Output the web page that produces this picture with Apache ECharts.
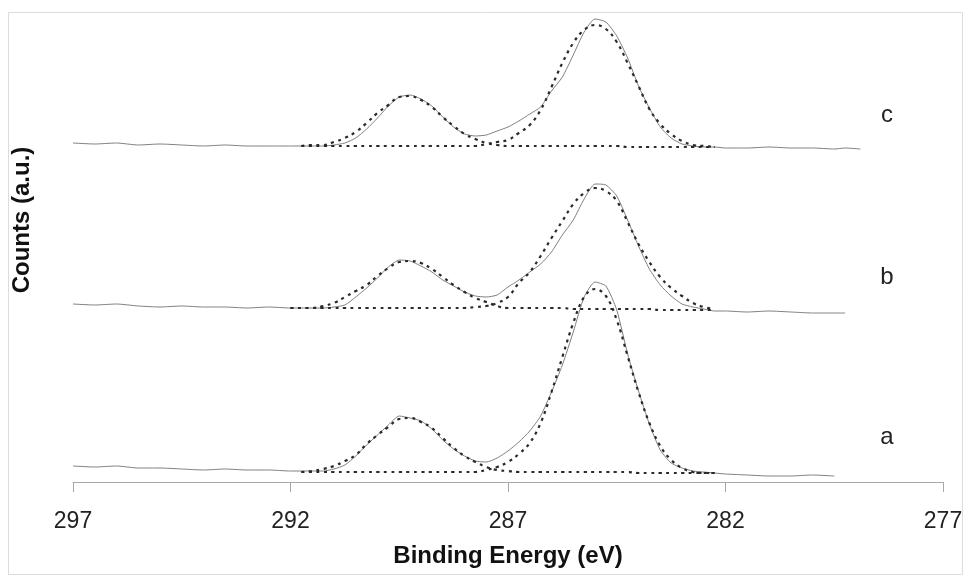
<!DOCTYPE html>
<html>
<head>
<meta charset="utf-8">
<script src="https://cdn.jsdelivr.net/npm/echarts@6/dist/echarts.min.js"></script>
<style>
  html, body { margin: 0; padding: 0; background: #fff; }
  #chart { width: 969px; height: 578px; }
</style>
</head>
<body>
<div id="chart"></div>
<script>
// binding energies (eV) of the measured spectra
const expE = [297, 296.5, 296, 295.5, 295, 294.5, 294, 293.5, 293, 292.5,
  292, 291.75, 291.5, 291.25, 291, 290.75, 290.5, 290.25, 290, 289.75,
  289.5, 289.25, 289, 288.75, 288.5, 288.25, 288, 287.75, 287.5, 287.25,
  287, 286.75, 286.5, 286.25, 286, 285.75, 285.5, 285.25, 285, 284.75,
  284.5, 284.25, 284, 283.75, 283.5, 283.25, 283, 282.75, 282.5, 282.25,
  282, 281.5, 281, 280.5, 280, 279.5, 279.25, 278.9]

// measured counts (a.u., stacked with offsets)
const aExp = [16, 15, 16, 14, 14, 13, 12, 13, 12, 12,
  11, 11, 11, 11, 13, 17, 26, 37, 47, 57,
  66, 64, 61, 53, 42, 33, 26, 21, 20, 24,
  31, 40, 51, 66, 90, 117, 150, 185, 200, 196,
  172, 128, 91, 58, 32, 19, 14, 11, 10, 9,
  8, 7, 6, 6, 7, 6, null, null]
const bExp = [178, 177, 178, 176, 175, 176, 175, 175, 174, 175,
  174, 174, 174, 174, 175, 177, 185, 194, 204, 215,
  222, 221, 216, 210, 202, 196, 190, 186, 185, 187,
  195, 202, 210, 218, 230, 247, 262, 283, 298, 297,
  286, 262, 236, 213, 197, 186, 178, 175, 173, 171,
  171, 170, 171, 170, 169, 169, 169, null]
const cExp = [339, 338, 339, 337, 338, 337, 336, 337, 336, 336,
  336, 336, 336, 336, 337, 339, 344, 353, 364, 376,
  385, 387, 383, 376, 365, 355, 348, 346, 347, 351,
  355, 361, 368, 375, 391, 405, 427, 450, 463, 460,
  446, 424, 396, 374, 355, 344, 338, 336, 335, 335,
  334, 334, 335, 334, 334, 333, 334, 333]

// binding energies (eV) of the fitted components
const fitE = [292, 291.75, 291.5, 291.25, 291, 290.75, 290.5, 290.25, 290, 289.75,
  289.5, 289.25, 289, 288.75, 288.5, 288.25, 288, 287.75, 287.5, 287.25,
  287, 286.75, 286.5, 286.25, 286, 285.75, 285.5, 285.25, 285, 284.75,
  284.5, 284.25, 284, 283.75, 283.5, 283.25, 283, 282.75, 282.5, 282.25]

// fitted components: 1 = high energy peak, 2 = main peak
const aFit1 = [null, 10, 11, 13, 16, 21, 27, 38, 47, 55,
  63, 64, 60, 54, 44, 34, 26, 20, 15, 12,
  11, 10, 10, 10, 10, 10, 10, 10, 10, 10,
  10, 10, 9, 9, 9, 9, 9, 9, 9, 9]
const aFit2 = [null, 10, 10, 10, 10, 10, 10, 10, 10, 10,
  10, 10, 10, 10, 10, 10, 10, 10, 12, 15,
  20, 28, 39, 59, 90, 125, 159, 185, 193, 186,
  162, 126, 90, 59, 36, 22, 14, 10, 9, 9]
const bFit1 = [174, 174, 174, 176, 179, 185, 191, 197, 206, 214,
  220, 221, 219, 213, 205, 197, 190, 184, 180, 176,
  174, 174, 174, 174, 174, 174, 173, 173, 173, 173,
  173, 173, 173, 173, 172, 172, 172, 172, 172, 172]
const bFit2 = [174, 174, 174, 174, 174, 174, 174, 174, 174, 174,
  174, 174, 174, 174, 174, 174, 174, 175, 176, 179,
  185, 199, 210, 226, 244, 261, 278, 289, 294, 291,
  281, 260, 238, 220, 205, 194, 186, 179, 175, 173]
const cFit1 = [null, 336, 337, 337, 340, 344, 350, 359, 369, 377,
  385, 386, 382, 375, 365, 356, 348, 343, 339, 337,
  336, 336, 336, 336, 336, 336, 336, 336, 336, 336,
  336, 335, 335, 335, 335, 335, 335, 335, 335, 335]
const cFit2 = [null, 336, 336, 336, 336, 336, 336, 336, 336, 336,
  336, 336, 336, 336, 336, 336, 336, 336, 338, 340,
  342, 349, 357, 372, 395, 419, 439, 452, 457, 453,
  440, 419, 396, 373, 358, 348, 341, 337, 336, 335]

const xTicks = [277, 297, 5] // min, max, step
const sampleNames = ['a', 'b', 'c']

const font = '"Liberation Sans", Arial, sans-serif'

function pairs(xs, ys) {
  return xs.map((x, i) => [x, ys[i]])
}

function expSeries(name, ys) {
  return {
    name: name,
    type: 'line',
    data: pairs(expE, ys),
    symbol: 'none',
    smooth: 0.2,
    lineStyle: { color: '#808080', width: 1 },
    z: 2,
  }
}

function fitSeries(name, ys) {
  return {
    name: name,
    type: 'line',
    data: pairs(fitE, ys),
    symbol: 'none',
    smooth: 0.4,
    lineStyle: { color: '#2a2a2a', width: 2.2, type: [3, 4.5] },
    z: 3,
  }
}

const chart = echarts.init(document.getElementById('chart'))

const option = {
  animation: false,
  backgroundColor: '#fff',
  grid: { left: 73, right: 26, top: 12, bottom: 96 },
  xAxis: {
    type: 'value',
    inverse: true,
    min: xTicks[0],
    max: xTicks[1],
    interval: xTicks[2],
    name: 'Binding Energy (eV)',
    nameLocation: 'middle',
    nameGap: 62,
    nameTextStyle: { fontFamily: font, fontSize: 24, fontWeight: 'bold', color: '#111' },
    axisLine: { lineStyle: { color: '#a8a8a8', width: 1 } },
    axisTick: { length: 10, lineStyle: { color: '#a8a8a8' } },
    axisLabel: { margin: 28, fontFamily: font, fontSize: 23, color: '#222' },
    splitLine: { show: false },
  },
  yAxis: {
    type: 'value',
    min: 0,
    max: 470,
    show: false,
  },
  series: [
    expSeries('a', aExp),
    expSeries('b', bExp),
    expSeries('c', cExp),
    fitSeries('a fit 1', aFit1),
    fitSeries('a fit 2', aFit2),
    fitSeries('b fit 1', bFit1),
    fitSeries('b fit 2', bFit2),
    fitSeries('c fit 1', cFit1),
    fitSeries('c fit 2', cFit2),
  ],
  graphic: [
    {
      type: 'rect',
      silent: true,
      z: -10,
      shape: { x: 8.5, y: 12.5, width: 954, height: 562 },
      style: { fill: 'none', stroke: '#dcdcdc', lineWidth: 1 },
    },
    {
      type: 'text',
      x: 22,
      y: 220,
      rotation: Math.PI / 2,
      style: {
        text: 'Counts (a.u.)',
        fontFamily: font,
        fontSize: 24,
        fontWeight: 'bold',
        fill: '#111',
        align: 'center',
        verticalAlign: 'middle',
      },
    },
    { type: 'text', x: 887, y: 437, style: { text: sampleNames[0], fontFamily: font, fontSize: 24, fill: '#222', align: 'center', verticalAlign: 'middle' } },
    { type: 'text', x: 887, y: 277, style: { text: sampleNames[1], fontFamily: font, fontSize: 24, fill: '#222', align: 'center', verticalAlign: 'middle' } },
    { type: 'text', x: 887, y: 115, style: { text: sampleNames[2], fontFamily: font, fontSize: 24, fill: '#222', align: 'center', verticalAlign: 'middle' } },
  ],
}

chart.setOption(option)
</script>
</body>
</html>
